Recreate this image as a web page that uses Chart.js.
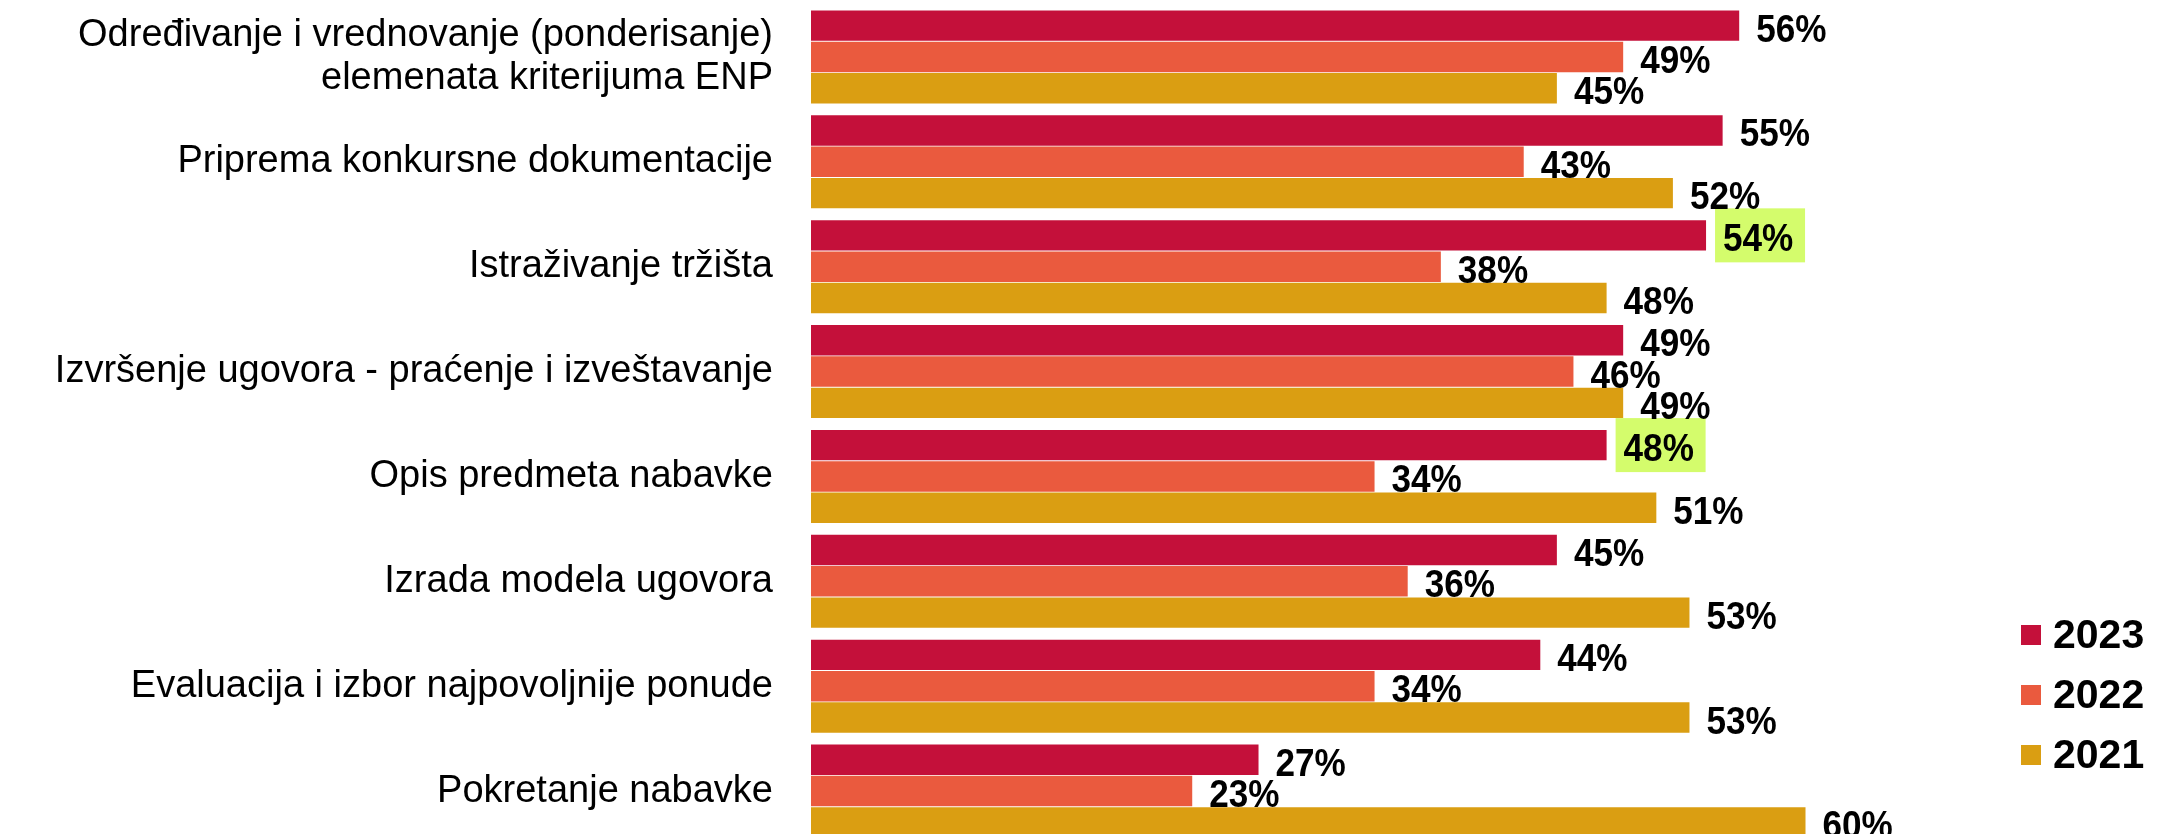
<!DOCTYPE html>
<html>
<head>
<meta charset="utf-8">
<script src="https://cdn.jsdelivr.net/npm/chart.js@4"></script>
<style>
    html, body { margin: 0; padding: 0; background: #fff; overflow: hidden; }
    #okvir { position: relative; width: 2167px; height: 850px; }
</style>
</head>
<body>
<div id="okvir"><canvas id="grafikon"></canvas></div>
<script>
// Podaci sa grafikona
const kategorije = [
    ['Određivanje i vrednovanje (ponderisanje)', 'elemenata kriterijuma ENP'],
    'Priprema konkursne dokumentacije',
    'Istraživanje tržišta',
    'Izvršenje ugovora - praćenje i izveštavanje',
    'Opis predmeta nabavke',
    'Izrada modela ugovora',
    'Evaluacija i izbor najpovoljnije ponude',
    'Pokretanje nabavke'
];
const godine = ['2023', '2022', '2021'];
const vrednosti2023 = [56, 55, 54, 49, 48, 45, 44, 27];
const vrednosti2022 = [49, 43, 38, 46, 34, 36, 34, 23];
const vrednosti2021 = [45, 52, 48, 49, 51, 53, 53, 60];
const istaknuto2023 = [2, 4]; // oznake sa zelenom pozadinom

const boje = ['#c4103a', '#ea5a3e', '#da9e12'];

// Procenti desno od stubića
const oznakePlugin = {
    id: 'oznake',
    afterDatasetsDraw(chart) {
        const ctx = chart.ctx;
        chart.data.datasets.forEach((ds, i) => {
            const meta = chart.getDatasetMeta(i);
            meta.data.forEach((bar, j) => {
                if (i === 0 && istaknuto2023.includes(j)) {
                    ctx.fillStyle = '#d4fc6c';
                    ctx.fillRect(bar.x + 9, bar.y - 27, 90, 54);
                }
                ctx.save();
                ctx.translate(bar.x + 17, bar.y + 16);
                ctx.scale(0.9, 1);
                ctx.font = 'bold 39px "Liberation Sans", Arial, sans-serif';
                ctx.fillStyle = '#000';
                ctx.textAlign = 'left';
                ctx.textBaseline = 'alphabetic';
                ctx.fillText(ds.data[j] + '%', 0, 0);
                ctx.restore();
            });
        });
    }
};

// Legenda dole desno
const legendaPlugin = {
    id: 'legenda',
    afterDraw(chart) {
        const ctx = chart.ctx;
        chart.data.datasets.forEach((ds, i) => {
            const y = 635 + i * 60;
            ctx.fillStyle = ds.backgroundColor;
            ctx.fillRect(2021, y - 10, 20, 20);
            ctx.font = 'bold 41px "Liberation Sans", Arial, sans-serif';
            ctx.fillStyle = '#000';
            ctx.textAlign = 'left';
            ctx.textBaseline = 'alphabetic';
            ctx.fillText(ds.label, 2053, y + 13);
        });
    }
};

const ctx = document.getElementById('grafikon').getContext('2d');
new Chart(ctx, {
    type: 'bar',
    data: {
        labels: kategorije,
        datasets: [
            { label: godine[0], data: vrednosti2023, backgroundColor: boje[0] },
            { label: godine[1], data: vrednosti2022, backgroundColor: boje[1] },
            { label: godine[2], data: vrednosti2021, backgroundColor: boje[2] }
        ]
    },
    options: {
        indexAxis: 'y',
        responsive: true,
        maintainAspectRatio: false,
        animation: false,
        categoryPercentage: 0.8965,
        barPercentage: 0.97,
        layout: { padding: { left: 0, right: 30, top: 4.5, bottom: 6.5 } },
        plugins: {
            legend: { display: false },
            tooltip: { enabled: false }
        },
        scales: {
            x: {
                display: false,
                min: 0,
                max: 80
            },
            y: {
                grid: { display: false, drawTicks: false },
                border: { display: false },
                afterFit: function (scale) {
                    scale.width = 811;
                    scale.paddingTop = 0;
                    scale.paddingBottom = 0;
                },
                ticks: {
                    color: '#000',
                    padding: 38,
                    font: {
                        family: '"Liberation Sans", Arial, sans-serif',
                        size: 38,
                        lineHeight: 1.13
                    }
                }
            }
        }
    },
    plugins: [oznakePlugin, legendaPlugin]
});
</script>
</body>
</html>
